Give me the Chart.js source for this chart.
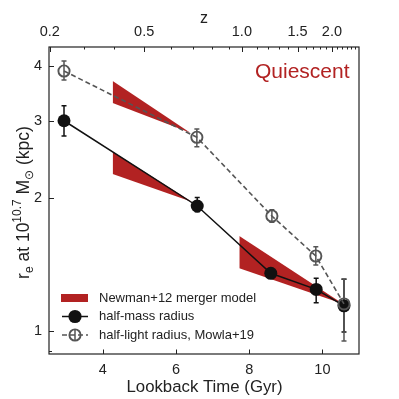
<!DOCTYPE html>
<html><head><meta charset="utf-8">
<script src="https://cdn.jsdelivr.net/npm/chart.js@4.4.0/dist/chart.umd.min.js"></script>
<style>html,body{margin:0;padding:0;background:#fff;}#wrap{width:399px;height:399px;}</style>
</head><body><div id="wrap"><canvas id="c" width="399" height="399"></canvas></div>
<script>
// ---- data ----
const lookbackMass = [2.94, 6.58, 8.59, 9.83, 10.59];
const reMass       = [3.00, 1.922, 1.352, 1.243, 1.141];
const reMassLo     = [2.77, 1.864, 1.33, 1.159, 0.995];
const reMassHi     = [3.245, 2.01, 1.375, 1.317, 1.31];

const lookbackLight = [2.94, 6.57, 8.62, 9.82, 10.59];
const reLight       = [3.89, 2.752, 1.824, 1.48, 1.152];
const reLightLo     = [3.71, 2.62, 1.765, 1.412, 0.949];
const reLightHi     = [4.10, 2.873, 1.885, 1.553, 1.312];

// Newman+12 merger model wedges
const bandStart       = [4.27, 4.27, 7.73];
const bandEnd         = [6.39, 6.43, 10.57];
const bandTopStart    = [3.69, 2.553, 1.643];
const bandBottomStart = [3.29, 2.271, 1.388];
const bandEndValue    = [2.818, 1.966, 1.152];

// axes
const xTicks = [4, 6, 8, 10];
const yTicks = [0.9, 1, 2, 3, 4];
const yTickLabels = ['', '1', '2', '3', '4'];
const zTickLabels   = ['0.2','0.3','0.4','0.5','0.6','0.7','0.8','0.9','1.0','1.1','1.2','1.3','1.4','1.5','1.6','1.7','1.8','1.9','2.0','2.1','2.2','2.3','2.4','2.5'];
const zTickLookback = [2.55,3.48,4.30,5.13,5.85,6.46,6.99,7.45,7.80,8.20,8.52,8.81,9.07,9.32,9.54,9.74,9.93,10.10,10.26,10.40,10.54,10.67,10.79,10.90];
const zMajorLabels = ['0.2','0.5','1.0','1.5','2.0'];

const xMin = 2.53, xMax = 11.0, yMin = 0.887, yMax = 4.41;
const RED = '#b22222';
const GREY = '#555555';
const FONT = "'Liberation Sans', Arial, Helvetica, sans-serif";
const TXT = '#222222';

// ---- datasets ----
const datasets = [];
datasets.push({
  label: 'half-light radius, Mowla+19',
  data: lookbackLight.map((x, i) => ({x: x, y: reLight[i]})),
  borderColor: GREY, borderWidth: 1.6, borderDash: [5, 3],
  pointRadius: 5.6, pointBorderWidth: 1.9, pointBorderColor: GREY,
  pointBackgroundColor: 'rgba(0,0,0,0)', fill: false, order: 0,
  errLo: reLightLo, errHi: reLightHi, errColor: GREY
});
datasets.push({
  label: 'half-mass radius',
  data: lookbackMass.map((x, i) => ({x: x, y: reMass[i]})),
  borderColor: '#111', borderWidth: 1.5,
  pointRadius: 6.5, pointBorderWidth: 0, pointBackgroundColor: '#111',
  fill: false, order: 1,
  errLo: reMassLo, errHi: reMassHi, errColor: '#111'
});
for (let i = 0; i < bandStart.length; i++) {
  datasets.push({
    label: 'band' + i + 'top',
    data: [{x: bandStart[i], y: bandTopStart[i]}, {x: bandEnd[i], y: bandEndValue[i]}],
    borderWidth: 0, pointRadius: 0, fill: false, order: 2, borderColor: 'rgba(0,0,0,0)'
  });
  datasets.push({
    label: 'band' + i + 'bottom',
    data: [{x: bandStart[i], y: bandBottomStart[i]}, {x: bandEnd[i], y: bandEndValue[i]}],
    borderWidth: 0, pointRadius: 0, fill: '-1', order: 2,
    borderColor: 'rgba(0,0,0,0)', backgroundColor: RED
  });
}

// ---- plugins ----
const errorBars = {
  id: 'errorBars',
  beforeDatasetsDraw(chart) {
    const ctx = chart.ctx, xs = chart.scales.x, ys = chart.scales.y;
    ctx.save();
    [1, 0].forEach(di => {
      const ds = chart.data.datasets[di];
      ctx.strokeStyle = ds.errColor; ctx.lineWidth = 1.5;
      ds.data.forEach((p, i) => {
        const px = xs.getPixelForValue(p.x);
        const y1 = ys.getPixelForValue(ds.errLo[i]);
        const y2 = ys.getPixelForValue(ds.errHi[i]);
        ctx.beginPath();
        ctx.moveTo(px, y1); ctx.lineTo(px, y2);
        ctx.moveTo(px - 2.5, y1); ctx.lineTo(px + 2.5, y1);
        ctx.moveTo(px - 2.5, y2); ctx.lineTo(px + 2.5, y2);
        ctx.stroke();
      });
    });
    ctx.restore();
  }
};

const frameTicks = {
  id: 'frameTicks',
  afterDraw(chart) {
    const ctx = chart.ctx, a = chart.chartArea;
    const xs = chart.scales.x, x2 = chart.scales.x2, ys = chart.scales.y;
    ctx.save();
    ctx.strokeStyle = '#222'; ctx.lineWidth = 1.2;
    ctx.strokeRect(a.left, a.top, a.right - a.left, a.bottom - a.top);
    ctx.lineWidth = 1;
    ctx.beginPath();
    xTicks.forEach(v => { const p = Math.round(xs.getPixelForValue(v)) + 0.5; ctx.moveTo(p, a.bottom); ctx.lineTo(p, a.bottom - 4.5); });
    zTickLookback.forEach((v, i) => {
      const p = Math.round(x2.getPixelForValue(v)) + 0.5;
      const len = zMajorLabels.includes(zTickLabels[i]) ? 5 : 2.5;
      ctx.moveTo(p, a.top); ctx.lineTo(p, a.top + len);
    });
    yTicks.forEach((v, i) => {
      const p = Math.round(ys.getPixelForValue(v)) + 0.5;
      const len = yTickLabels[i] ? 5 : 3;
      ctx.moveTo(a.left, p); ctx.lineTo(a.left + len, p);
    });
    ctx.stroke();

    // axis titles
    ctx.fillStyle = TXT;
    ctx.textAlign = 'center'; ctx.textBaseline = 'alphabetic';
    const cx = (a.left + a.right) / 2;
    ctx.font = '16px ' + FONT;
    ctx.fillText('z', cx, 23);
    ctx.font = '16.8px ' + FONT;
    ctx.fillText('Lookback Time (Gyr)', cx + 0.5, 391.5);

    // y title with sub/superscripts
    const segs = [
      {t: 'r', s: 17.5, dy: 0}, {t: 'e', s: 12, dy: 4.5}, {t: ' at 10', s: 17.5, dy: 0},
      {t: '10.7', s: 12, dy: -7.5}, {t: ' M', s: 17.5, dy: 0}, {t: '\u2299', s: 12, dy: 4.5},
      {t: ' (kpc)', s: 17.5, dy: 0}
    ];
    let total = 0;
    segs.forEach(s => { ctx.font = s.s + 'px ' + FONT; s.w = ctx.measureText(s.t).width; total += s.w; });
    ctx.translate(28.5, 202.5); ctx.rotate(-Math.PI / 2);
    ctx.textAlign = 'left';
    let xx = -total / 2;
    segs.forEach(s => { ctx.font = s.s + 'px ' + FONT; ctx.fillText(s.t, xx, s.dy); xx += s.w; });
    ctx.restore();

    // Quiescent label
    ctx.save();
    ctx.fillStyle = RED; ctx.font = '21px ' + FONT;
    ctx.textAlign = 'right'; ctx.textBaseline = 'alphabetic';
    ctx.fillText('Quiescent', 349.5, 77.5);
    ctx.restore();

    // legend
    ctx.save();
    ctx.font = '13px ' + FONT; ctx.fillStyle = TXT;
    ctx.textAlign = 'left'; ctx.textBaseline = 'middle';
    const rows = [298, 316.5, 335];
    ctx.fillStyle = RED; ctx.fillRect(61, rows[0] - 4, 27, 8);
    ctx.strokeStyle = '#111'; ctx.lineWidth = 1.5;
    ctx.beginPath(); ctx.moveTo(62, rows[1]); ctx.lineTo(88, rows[1]); ctx.stroke();
    ctx.fillStyle = '#111'; ctx.beginPath(); ctx.arc(75, rows[1], 6.6, 0, Math.PI * 2); ctx.fill();
    ctx.strokeStyle = GREY; ctx.lineWidth = 1.6; ctx.setLineDash([5, 3]);
    ctx.beginPath(); ctx.moveTo(62, rows[2]); ctx.lineTo(88, rows[2]); ctx.stroke();
    ctx.setLineDash([]); ctx.lineWidth = 1.9;
    ctx.beginPath(); ctx.arc(75, rows[2], 5.6, 0, Math.PI * 2); ctx.stroke();
    ctx.lineWidth = 1.5;
    ctx.beginPath(); ctx.moveTo(75, rows[2] - 6); ctx.lineTo(75, rows[2] + 6); ctx.stroke();
    ctx.fillStyle = TXT;
    ctx.fillText('Newman+12 merger model', 99, rows[0]);
    ctx.fillText('half-mass radius', 99, rows[1]);
    ctx.fillText('half-light radius, Mowla+19', 99, rows[2]);
    ctx.restore();
  }
};

new Chart(document.getElementById('c'), {
  type: 'line',
  data: {datasets: datasets},
  options: {
    responsive: false, animation: false,
    layout: {padding: {left: 0, right: 40, top: 0, bottom: 0}},
    plugins: {legend: {display: false}, tooltip: {enabled: false}, filler: {drawTime: 'beforeDatasetsDraw'}},
    scales: {
      x: {
        type: 'linear', position: 'bottom', min: xMin, max: xMax,
        grid: {display: false, drawTicks: false}, border: {display: false},
        afterBuildTicks: s => { s.ticks = xTicks.map(v => ({value: v})); },
        afterFit: s => { s.height = 45; },
        ticks: {padding: 7, autoSkip: false, maxRotation: 0, color: TXT, font: {family: FONT, size: 14.5},
          callback: v => String(v)}
      },
      x2: {
        type: 'linear', position: 'top', min: xMin, max: xMax,
        grid: {display: false, drawTicks: false}, border: {display: false},
        afterBuildTicks: s => { s.ticks = zTickLookback.map(v => ({value: v})); },
        afterFit: s => { s.height = 47; },
        ticks: {padding: 6, autoSkip: false, maxRotation: 0, color: TXT, font: {family: FONT, size: 14.5},
          callback: (v, i) => zMajorLabels.includes(zTickLabels[i]) ? zTickLabels[i] : ''}
      },
      y: {
        type: 'logarithmic', position: 'left', min: yMin, max: yMax,
        grid: {display: false, drawTicks: false}, border: {display: false},
        afterBuildTicks: s => { s.ticks = yTicks.map(v => ({value: v})); },
        afterFit: s => { s.width = 49; },
        ticks: {padding: 7, autoSkip: false, color: TXT, font: {family: FONT, size: 14.5},
          callback: (v, i) => yTickLabels[i]}
      }
    }
  },
  plugins: [errorBars, frameTicks]
});
</script></body></html>
